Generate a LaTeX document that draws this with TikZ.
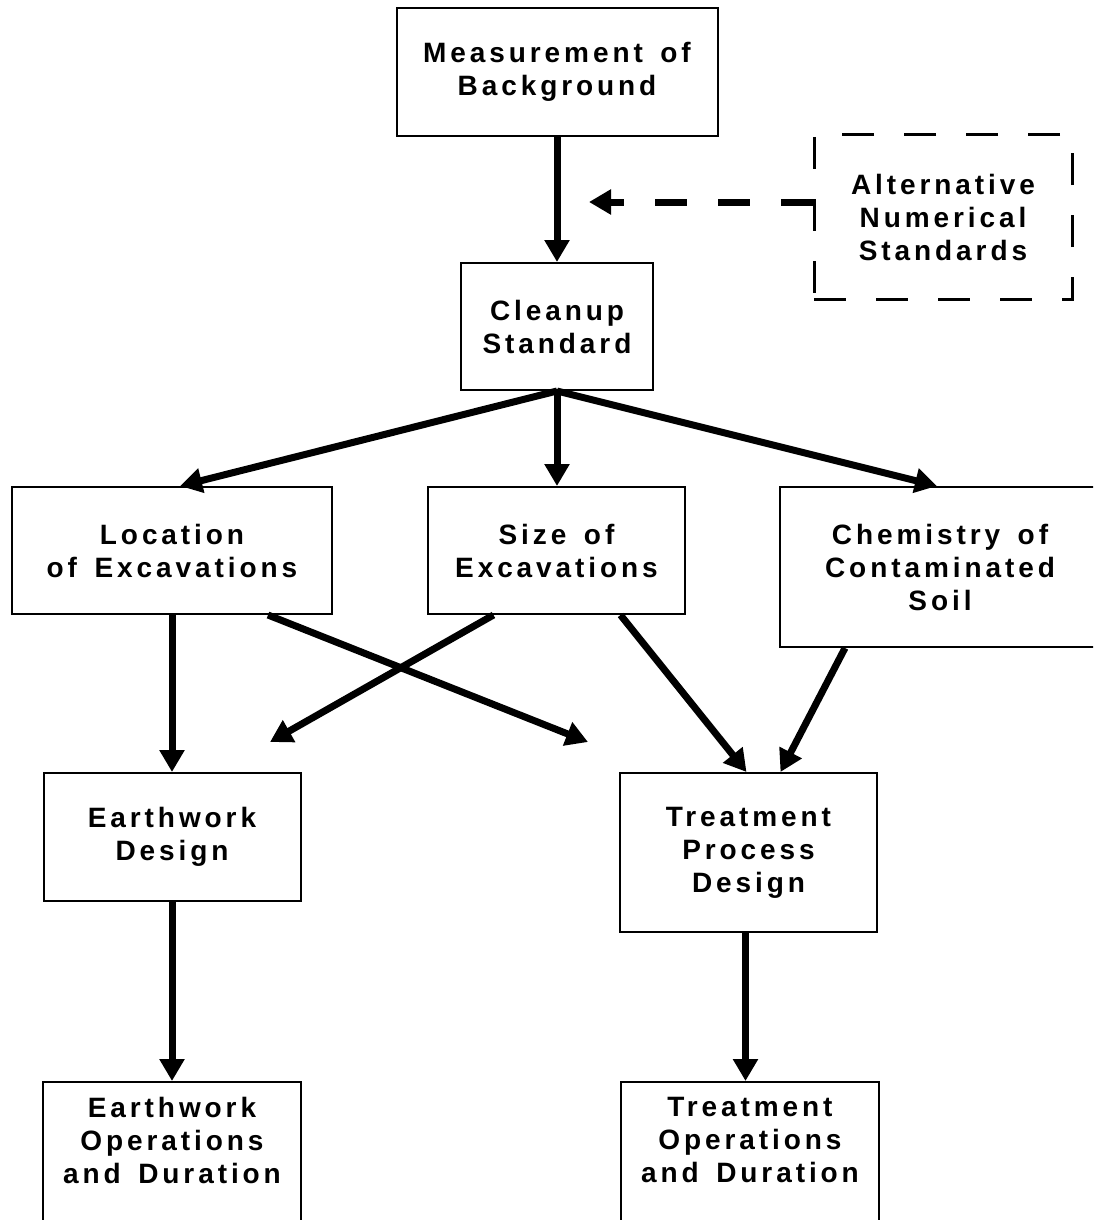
\documentclass[tikz,border=0pt]{standalone}
\usepackage{fontspec}
\setmainfont{Liberation Sans}[LetterSpace=14,WordSpace=1.5]
\usetikzlibrary{arrows.meta}
\begin{document}
\begin{tikzpicture}[x=0.5pt,y=-0.5pt,
  font=\fontsize{14}{16.5}\selectfont\bfseries,
  box/.style={draw,line width=1pt,rectangle,align=center,inner sep=0pt},
  lbl/.style={align=center,inner sep=0pt},
  arr/.style={line width=3.5pt,-{Triangle[length=11pt,width=12pt]}},
  dasharr/.style={line width=3.5pt,dash pattern=on 16pt off 15.5pt,-{Triangle[length=11pt,width=12pt]}},
  dbox/.style={draw,line width=1.5pt,dash pattern=on 16pt off 15pt,rectangle,align=center,inner sep=0pt}]
\useasboundingbox (0,0) rectangle (1093,1220);
\fill[white] (0,0) rectangle (1093,1220);
\clip (0,0) rectangle (1093,1220);

\node[box,minimum width=160.5pt,minimum height=64pt] (meas) at (557,72) {Measurement of\\Background};
\node[dbox,minimum width=129pt,minimum height=82pt] (alt) at (943,217) {Alternative\\Numerical\\Standards};
\node[box,minimum width=96pt,minimum height=63.5pt] (clean) at (557,326.5) {Cleanup\\Standard};
\node[box,minimum width=160pt,minimum height=63.5pt] (loc) at (172,550.5) {Location\\of Excavations};
\node[box,minimum width=128.5pt,minimum height=63.5pt] (size) at (556.5,550.5) {Size of\\Excavations};
\node[box,minimum width=160pt,minimum height=80pt] (chem) at (940,567) {Chemistry of\\Contaminated\\Soil};
\node[box,minimum width=128.5pt,minimum height=64pt] (ewd) at (172,837) {Earthwork\\Design};
\node[box,minimum width=128.5pt,minimum height=79.5pt] (tpd) at (748.5,852.5) {Treatment\\Process\\Design};
\node[box,minimum width=129pt,minimum height=79pt] (ewo) at (172,1161) {};
\node[box,minimum width=129pt,minimum height=79pt] (tro) at (750,1161) {};
\node[lbl] (ewol) at (172,1140) {Earthwork\\Operations\\and Duration};
\node[lbl] (trol) at (750,1140) {Treatment\\Operations\\and Duration};

\coordinate (altend) at (589,202);
\coordinate (xr) at (588,742);
\coordinate (xl) at (270,742);

\draw[arr] (meas.south) -- (meas.south |- clean.north);
\draw[dasharr] ([yshift=7.5pt]alt.west) -- (altend);
\draw[arr] (clean.south) -- ([xshift=4pt]loc.north);
\draw[arr] (clean.south) -- (clean.south |- size.north);
\draw[arr] (clean.south) -- ([xshift=-1.5pt]chem.north);
\draw[arr] (loc.south) -- (loc.south |- ewd.north);
\draw[arr] ([xshift=48pt]loc.south) -- (xr);
\draw[arr] ([xshift=-31.5pt]size.south) -- (xl);
\draw[arr] ([xshift=32pt]size.south) -- ([xshift=-1pt]tpd.north);
\draw[arr] ([xshift=-47.5pt]chem.south) -- ([xshift=16pt]tpd.north);
\draw[arr] (ewd.south) -- (ewd.south |- ewo.north);
\draw[arr] ([xshift=-1.5pt]tpd.south) -- ([xshift=-1.5pt]tpd.south |- tro.north);
\end{tikzpicture}
\end{document}
